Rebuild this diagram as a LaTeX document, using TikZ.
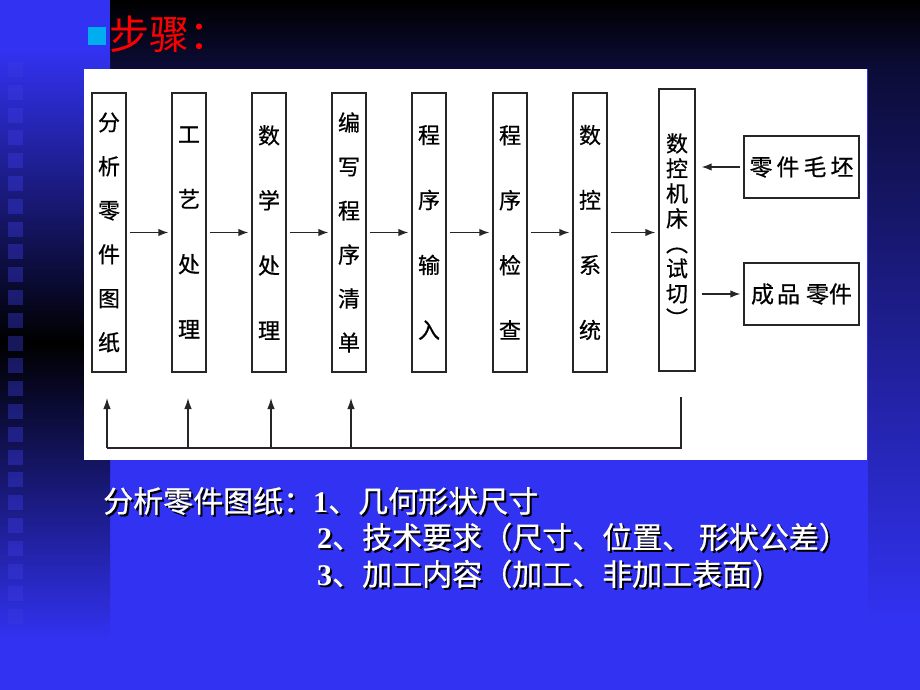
\documentclass[tikz,border=0pt]{standalone}
\usepackage{fontspec}
\setmainfont{Liberation Serif}
\newfontfamily\cjk{Noto Sans CJK SC}
\newfontfamily\cjkh[FakeBold=0.6]{Noto Sans CJK SC}
\usetikzlibrary{arrows.meta}
\definecolor{slideblue}{RGB}{50,50,242}
\definecolor{navy}{RGB}{12,12,56}
\definecolor{sqc}{RGB}{58,58,225}
\newcommand\sht[1]{\makebox[0pt][l]{\kern2pt\raisebox{-2pt}{\color{black}#1}}#1}
\begin{document}
\begin{tikzpicture}[x=1pt,y=-1pt,
  vbox/.style={draw=black!85, line width=1.3pt, minimum width=34pt, minimum height=279pt, inner sep=0pt, align=center},
  six/.style={vbox, font=\cjkh\fontsize{22}{44}\selectfont},
  four/.style={vbox, font=\cjkh\fontsize{22}{65}\selectfont},
  hbox/.style={draw=black!85, line width=1.3pt, minimum width=115pt, minimum height=62pt, inner sep=0pt, font=\cjkh\fontsize{23}{23}\selectfont},
  arr/.style={-{Latex[length=10pt,width=7.5pt]}, line width=1.4pt, black!85, shorten <=3pt, shorten >=3pt},
  uparr/.style={-{Latex[length=11pt,width=7.5pt]}, line width=1.3pt, black!85},
  fbline/.style={line width=1.5pt, black!85},
  bt/.style={anchor=west, inner sep=0pt, text=white, font=\cjkh\fontsize{30}{30}\selectfont}]
\useasboundingbox (0,0) rectangle (920,690);
% background
\fill[slideblue] (0,0) rectangle (920,690);
\shade[top color=black, bottom color=navy] (110,0) rectangle (920,69);
\shade[top color=navy, bottom color=slideblue] (868,69) rectangle (920,620);
\shade[top color=slideblue, bottom color=black] (0,50) rectangle (110,343);
\shade[top color=black, bottom color=slideblue] (0,343) rectangle (110,640);
\foreach \i in {0,...,24} \fill[sqc, opacity=0.4] (8,{62+\i*22.8}) rectangle ++(15,15);
% panel
\fill[white] (84,69) rectangle (867,460);
% title
\fill[cyan] (88,27) rectangle (106,45);
\node[anchor=west, inner sep=0pt, text=red, font=\cjk\fontsize{40}{40}\selectfont] (title) at (109,34) {步骤：};
% boxes
\node[six]  (b1) at (109,232.5) {分\\析\\零\\件\\图\\纸};
\node[four] (b2) at (189,232.5) {工\\艺\\处\\理};
\node[four] (b3) at (269,232.5) {数\\学\\处\\理};
\node[six]  (b4) at (349,232.5) {编\\写\\程\\序\\清\\单};
\node[four] (b5) at (429,232.5) {程\\序\\输\\入};
\node[four] (b6) at (510,232.5) {程\\序\\检\\查};
\node[four] (b7) at (590,232.5) {数\\控\\系\\统};
\node[vbox, minimum width=36pt, minimum height=282pt, font=\cjkh\fontsize{22}{25}\selectfont] (b8) at (677,230) {数\\控\\机\\床\\︵\\试\\切\\︶};
\node[hbox] (blank) at (801.5,167) {零\hspace{4pt}件\hspace{4pt}毛\hspace{4pt}坯};
\node[hbox] (prod) at (801.5,294) {成\hspace{3pt}品\hspace{6pt}零件};
% arrows
\draw[arr] (b1.east) -- (b2.west);
\draw[arr] (b2.east) -- (b3.west);
\draw[arr] (b3.east) -- (b4.west);
\draw[arr] (b4.east) -- (b5.west);
\draw[arr] (b5.east) -- (b6.west);
\draw[arr] (b6.east) -- (b7.west);
\draw[arr] (b7.east) -- (b7.east -| b8.west);
\draw[arr, shorten >=6pt] (blank.west) -- (blank.west -| b8.east);
\draw[arr, shorten <=6pt] (prod.west -| b8.east) -- (prod.west);
% feedback
\coordinate (fr) at (681,397);
\coordinate (fc) at (681,448);
\coordinate (f1) at (107,448); \coordinate (t1) at (107,398);
\coordinate (f2) at (188,448); \coordinate (t2) at (188,398);
\coordinate (f3) at (271,448); \coordinate (t3) at (271,398);
\coordinate (f4) at (351,448); \coordinate (t4) at (351,398);
\draw[fbline] (fr) -- (fc) -- (f1);
\draw[uparr] (f1) -- (t1);
\draw[uparr] (f2) -- (t2);
\draw[uparr] (f3) -- (t3);
\draw[uparr] (f4) -- (t4);
% bottom text
\node[bt] (l1) at (103,502) {\sht{分析零件图纸：{\normalfont\bfseries 1}、几何形状尺寸}};
\node[bt] (l2) at (317,538) {\sht{{\normalfont\bfseries 2}、技术要求（尺寸、位置、 形状公差）}};
\node[bt] (l3) at (317,575) {\sht{{\normalfont\bfseries 3}、加工内容（加工、非加工表面）}};
\end{tikzpicture}
\end{document}
